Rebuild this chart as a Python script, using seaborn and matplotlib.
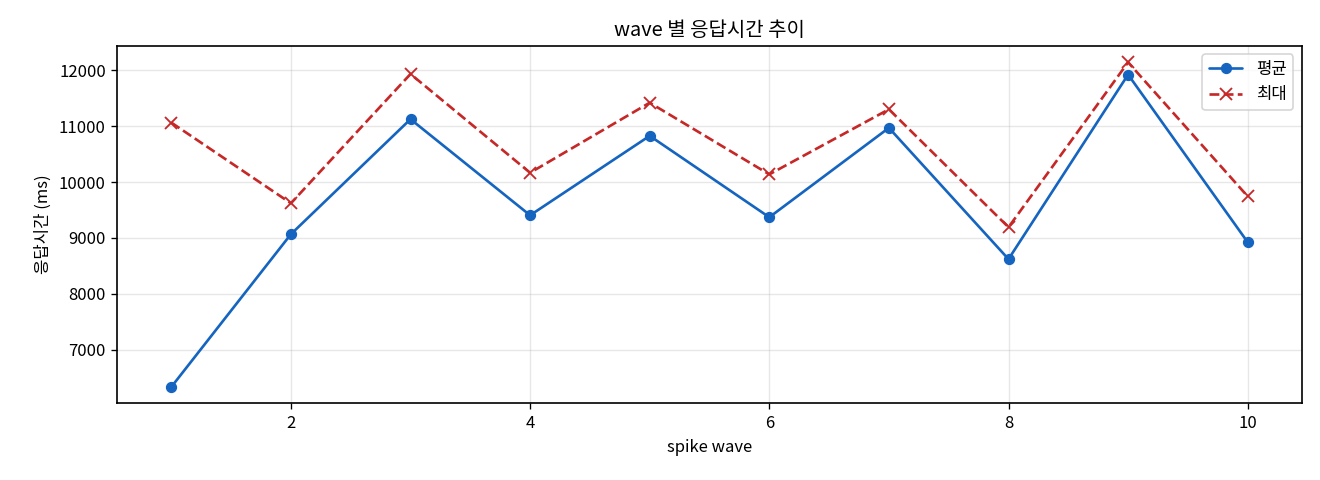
import matplotlib
matplotlib.use("Agg")
import matplotlib.pyplot as plt
import seaborn as sns
import pandas as pd

waves = [1, 2, 3, 4, 5, 6, 7, 8, 9, 10]
avg_ms = [6332, 9066, 11125, 9405, 10827, 9370, 10970, 8620, 11923, 8923]
max_ms = [11064, 9620, 11934, 10166, 11420, 10137, 11302, 9191, 12143, 9743]

sns.set_style("ticks")
plt.rcParams['font.family'] = ['Noto Sans CJK KR', 'DejaVu Sans']
plt.rcParams['axes.unicode_minus'] = False
plt.rcParams['text.color'] = 'black'
plt.rcParams['axes.labelcolor'] = 'black'

df = pd.DataFrame({"wave": waves, "avg": avg_ms, "max": max_ms})

fig, ax = plt.subplots(figsize=(11, 4), dpi=120)
sns.lineplot(data=df, x="wave", y="avg", ax=ax, color="#1565c0", marker="o",
             markersize=6, markeredgecolor="#1565c0", linewidth=1.6, label="평균")
sns.lineplot(data=df, x="wave", y="max", ax=ax, color="#c62828", marker="x",
             markersize=7, markeredgecolor="#c62828", markeredgewidth=1.1,
             linewidth=1.6, linestyle="--", label="최대")

ax.set_title("wave 별 응답시간 추이", fontsize=12, color="black")
ax.set_xlabel("spike wave", fontsize=10)
ax.set_ylabel("응답시간 (ms)", fontsize=10)
ax.grid(True, color="#b0b0b0", alpha=0.3)
for s in ax.spines.values():
    s.set_color("black")
    s.set_linewidth(1.0)
ax.tick_params(colors="black", labelsize=10)
ax.legend(loc="upper right", fontsize=10)
fig.subplots_adjust(left=0.089, right=0.986, top=0.904, bottom=0.16)
fig.savefig("out.png", dpi=120)
